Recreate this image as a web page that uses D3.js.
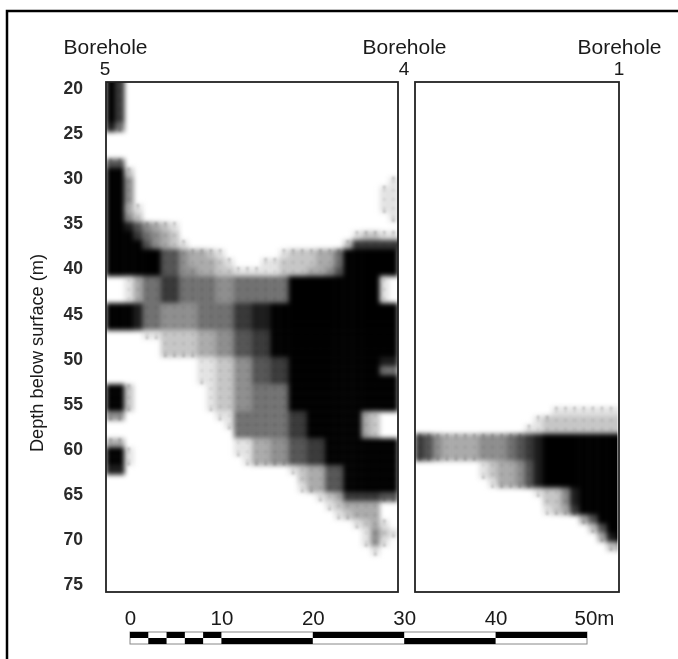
<!DOCTYPE html>
<html>
<head>
<meta charset="utf-8">
<script src="https://cdn.jsdelivr.net/npm/d3@7"></script>
<style>
  html, body { margin: 0; padding: 0; background: #fff; }
  svg { display: block; }
  text { font-family: "Liberation Sans", Arial, sans-serif; fill: #1a1a1a; filter: blur(0.35px); }
</style>
</head>
<body>
<svg width="678" height="659"></svg>
<script>
// grey level per 1 m cell, 0 = white, 9 = black. one string per row, one digit per column
var leftGrid = [
  "97", "97", "97", "97", "97", "85", "", "", "",
  "66",
  "992",
  "994" + "000000000000000000000000000" + "01",
  "994" + "000000000000000000000000000" + "11",
  "994" + "000000000000000000000000000" + "11",
  "9931" + "00000000000000000000000000" + "11",
  "9942" + "00000000000000000000000000" + "01",
  "99864321",
  "9997543200" + "00000000000000000" + "12211",
  "9999643210" + "0000000000000000" + "2777777",
  "99999966433210" + "00000" + "122233" + "5" + "999999",
  "999999" + "66433321" + "00011" + "2222335" + "999999",
  "999999" + "66443322" + "11111" + "2223346" + "999999",
  "00135577555544555555" + "9999999999" + "10",
  "00135577555544555555" + "9999999999" + "10",
  "00135577555544555555" + "9999999999" + "10",
  "999855444455557788" + "99999999999999",
  "999855444455557788" + "99999999999999",
  "999855444455557788" + "99999999999999",
  "000011222233446677" + "99999999999999",
  "000000222233446677" + "99999999999999",
  "000000222233446677" + "99999999999999",
  "0000000000" + "1122446677" + "9999999999" + "88",
  "0000000000" + "1122446677" + "9999999999" + "55",
  "0000000000" + "1122446677" + "999999999999",
  "992" + "0000000" + "0122445555" + "999999999999",
  "992" + "0000000" + "0122445555" + "999999999999",
  "992" + "0000000" + "0122445555" + "999999999999",
  "44" + "0000000000" + "11" + "555555" + "77" + "999999" + "3200",
  "0000000000000" + "1" + "555555" + "77" + "999999" + "3200",
  "00000000000000" + "555555" + "77" + "999999" + "3200",
  "33" + "000000000000" + "1133446677" + "99999999",
  "991" + "00000000000" + "1133446677" + "99999999",
  "991" + "000000000000" + "133446677" + "99999999",
  "88" + "000000000000000000" + "123366" + "999999",
  "00000000000000000000" + "023366" + "999999",
  "000000000000000000000" + "13366" + "999999",
  "00000000000000000000000" + "123" + "777766",
  "000000000000000000000000" + "1233330",
  "0000000000000000000000000" + "123330",
  "000000000000000000000000000" + "12310",
  "0000000000000000000000000000" + "1421",
  "0000000000000000000000000000" + "141",
  "00000000000000000000000000000" + "1"
];
var rightGrid = [
  "00000000000000" + "011111111",
  "0000000000000" + "1222222222",
  "000000000000" + "11222222222",
  "76433334445678" + "999999999",
  "76433334445678" + "999999999",
  "76433334445678" + "999999999",
  "00000001233468" + "999999999",
  "00000001233468" + "999999999",
  "00000000133468" + "999999999",
  "0000000000000" + "12248" + "99999",
  "00000000000000" + "2248" + "99999",
  "00000000000000" + "1237" + "99999",
  "000000000000000000" + "36" + "999",
  "0000000000000000000" + "26" + "99",
  "00000000000000000000" + "389",
  "000000000000000000000" + "23"
];
var leftTopDepth = 18.84;
var rightTopDepth = 55.33;
var depthTicks = [20, 25, 30, 35, 40, 45, 50, 55, 60, 65, 70, 75];
var scaleTicks = [0, 10, 20, 30, 40, 50];
var scaleTop = [[0, 2], [4, 6], [8, 10], [20, 30], [40, 50]];
var scaleBottom = [[2, 4], [6, 8], [10, 20], [30, 40]];
var boreholes = [
  { name: "5", x: 105.5 },
  { name: "4", x: 404.5 },
  { name: "1", x: 619.5 }
];

var svg = d3.select("svg");
var depth = d3.scaleLinear().domain([20, 75]).range([88, 584]);
var dist = d3.scaleLinear().domain([0, 50]).range([130, 587]);
var grey = d3.scaleLinear().domain([0, 9]).range(["#ffffff", "#000000"]);
var top_ = 82, bottom = 592;

var defs = svg.append("defs");

// outer frame, only top and left show
svg.append("path").attr("d", "M7,659V11H678").attr("fill", "none").attr("stroke", "#000").attr("stroke-width", 2.5);

function drawPanel(id, grid, topDepth, x0, x1, nCols, clipX1) {
  var x = d3.scaleLinear().domain([0, nCols]).range([x0, x1]);
  var cells = [];
  var level = function(r, c) { return grid[r] ? +(grid[r][c] || 0) : 0; };
  grid.forEach(function(row, r) {
    row.split("").forEach(function(ch, c) {
      if (+ch > 0) cells.push({ r: r, c: c, v: +ch });
    });
  });

  defs.append("clipPath").attr("id", id)
    .append("rect").attr("x", x0).attr("y", top_).attr("width", clipX1 - x0).attr("height", bottom - top_);

  var clip = svg.append("g").attr("clip-path", "url(#" + id + ")");
  var g = clip.append("g").style("filter", "blur(2.4px)");
  g.selectAll("rect").data(cells).enter().append("rect")
    .attr("x", function(d) { return x(d.c); })
    .attr("y", function(d) { return depth(topDepth + d.r); })
    .attr("width", x(1) - x(0) + 0.4)
    .attr("height", depth(1) - depth(0) + 0.4)
    .attr("fill", function(d) { return grey(d.v); });

  // small darker spots at the cell centres, left by the original raster
  var spots = clip.append("g").style("filter", "blur(0.8px)");
  spots.selectAll(".inner").data(cells.filter(function(d) { return d.v < 8; })).enter().append("circle")
    .attr("class", "inner")
    .attr("cx", function(d) { return x(d.c + 0.5); })
    .attr("cy", function(d) { return depth(topDepth + d.r + 0.5); })
    .attr("r", 1.6)
    .attr("fill", "#000").attr("fill-opacity", 0.07);

  // and stronger ones along the lower and upper edges of each grey area
  var edge = cells.filter(function(d) {
    return d.v < 8 && (level(d.r + 1, d.c) === 0 || level(d.r - 1, d.c) === 0);
  });
  spots.selectAll(".edge").data(edge).enter().append("circle")
    .attr("class", "edge")
    .attr("cx", function(d) { return x(d.c + 0.5); })
    .attr("cy", function(d) { return depth(topDepth + d.r + (level(d.r + 1, d.c) === 0 ? 0.85 : 0.15)); })
    .attr("r", 1.5)
    .attr("fill", "#000").attr("fill-opacity", 0.2);

  svg.append("rect").attr("x", x0).attr("y", top_).attr("width", x1 - x0).attr("height", bottom - top_)
    .attr("fill", "none").attr("stroke", "#222").attr("stroke-width", 1.8);
}

drawPanel("clipL", leftGrid, leftTopDepth, 106, 398, 32, 398);
drawPanel("clipR", rightGrid, rightTopDepth, 415, 619, 22.37, 617.5);

// depth axis
var yAxis = svg.append("g").attr("transform", "translate(83,0)")
  .call(d3.axisLeft(depth).tickValues(depthTicks).tickSize(0).tickPadding(0));
yAxis.select(".domain").remove();
yAxis.selectAll("text").style("font-size", "17.5px").style("font-weight", "bold").style("fill", "#2a2a2a")
  .attr("dy", "0.32em").style("font-family", '"Liberation Sans", Arial, sans-serif');

svg.append("text")
  .attr("transform", "translate(43,353) rotate(-90)")
  .attr("text-anchor", "middle")
  .style("font-size", "18.2px")
  .text("Depth below surface (m)");

// borehole headers
var heads = svg.selectAll(".head").data(boreholes).enter().append("g").attr("class", "head");
heads.append("text").attr("x", function(d) { return d.x; }).attr("y", 54)
  .attr("text-anchor", "middle").style("font-size", "21px").text("Borehole");
heads.append("text").attr("x", function(d) { return d.x - 0.5; }).attr("y", 75)
  .attr("text-anchor", "middle").style("font-size", "19px").text(function(d) { return d.name; });

// scale bar
var barY0 = 632, barY1 = 644, barMid = 638;
var bar = svg.append("g");
bar.append("rect").attr("x", dist(0)).attr("y", barY0).attr("width", dist(50) - dist(0)).attr("height", barY1 - barY0)
  .attr("fill", "#fff").attr("stroke", "#888").attr("stroke-width", 1);
bar.selectAll(".t").data(scaleTop).enter().append("rect").attr("class", "t")
  .attr("x", function(d) { return dist(d[0]); }).attr("y", barY0)
  .attr("width", function(d) { return dist(d[1]) - dist(d[0]); }).attr("height", barMid - barY0)
  .attr("fill", "#000");
bar.selectAll(".b").data(scaleBottom).enter().append("rect").attr("class", "b")
  .attr("x", function(d) { return dist(d[0]); }).attr("y", barMid)
  .attr("width", function(d) { return dist(d[1]) - dist(d[0]); }).attr("height", barY1 - barMid)
  .attr("fill", "#000");

var xAxis = svg.append("g").attr("transform", "translate(0,625)")
  .call(d3.axisTop(dist).tickValues(scaleTicks).tickSize(0).tickPadding(0)
    .tickFormat(function(d) { return d === 50 ? "50m" : d; }));
xAxis.select(".domain").remove();
xAxis.selectAll("text").style("font-size", "20.5px").style("fill", "#1a1a1a")
  .style("font-family", '"Liberation Sans", Arial, sans-serif');
xAxis.selectAll("text").filter(function(d) { return d === 50; })
  .attr("text-anchor", "start").attr("x", -13);
</script>
</body>
</html>
